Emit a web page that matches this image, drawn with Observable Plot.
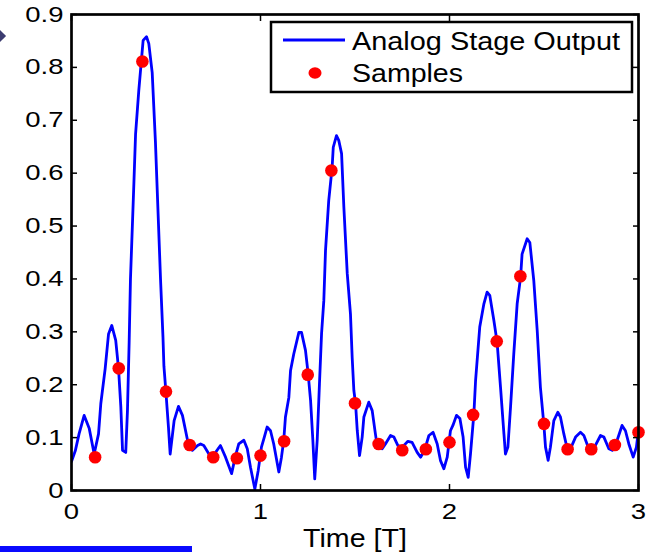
<!DOCTYPE html>
<html>
<head>
<meta charset="utf-8">
<script src="https://cdn.jsdelivr.net/npm/d3@7"></script>
<script src="https://cdn.jsdelivr.net/npm/@observablehq/plot@0.6"></script>
<style>
  html, body { margin: 0; padding: 0; background: #fff; }
  #wrap { position: relative; width: 646px; height: 552px; overflow: hidden; background: #fff; }
  #legend { position: absolute; left: 0; top: 0; }
  #diamond { position: absolute; left: -6px; top: 31px; width: 10px; height: 10px; background: #3c3c70; transform: rotate(45deg); }
  #bar { position: absolute; left: 0; top: 546px; width: 192px; height: 6px; background: #0a0aff; }
</style>
</head>
<body>
<div id="wrap">
  <div id="chart"></div>
  <div id="diamond"></div>
  <div id="bar"></div>
  <svg id="legend" width="646" height="552" style="pointer-events:none">
    <rect x="271" y="22" width="361" height="70" fill="#fff" stroke="#000" stroke-width="2.5"></rect>
    <line x1="283" y1="40" x2="345" y2="40" stroke="#0000ff" stroke-width="2.8"></line>
    <ellipse cx="315" cy="73" rx="6.5" ry="5.8" fill="#ff0000"></ellipse>
    <text x="352" y="50" font-family="Liberation Sans, Arial, sans-serif" font-size="25" fill="#000" textLength="268" lengthAdjust="spacingAndGlyphs">Analog Stage Output</text>
    <text x="352" y="82" font-family="Liberation Sans, Arial, sans-serif" font-size="25" fill="#000" textLength="111" lengthAdjust="spacingAndGlyphs">Samples</text>
  </svg>
</div>
<script>
// Analog stage output (time in T, amplitude)
const analogT = [0.000,0.020,0.040,0.067,0.094,0.120,0.143,0.155,0.178,0.196,0.213,0.234,0.249,0.261,0.270,0.287,0.296,0.305,0.312,0.330,0.339,0.356,0.379,0.397,0.409,0.427,0.444,0.471,0.484,0.489,0.499,0.513,0.522,0.543,0.566,0.587,0.614,0.640,0.667,0.683,0.700,0.727,0.750,0.788,0.815,0.847,0.868,0.885,0.912,0.930,0.947,0.970,0.988,1.005,1.018,1.035,1.053,1.070,1.097,1.111,1.123,1.132,1.150,1.159,1.176,1.203,1.217,1.238,1.252,1.265,1.277,1.287,1.300,1.312,1.323,1.335,1.344,1.361,1.379,1.385,1.402,1.414,1.429,1.441,1.459,1.476,1.485,1.494,1.503,1.512,1.524,1.538,1.547,1.573,1.591,1.608,1.617,1.644,1.661,1.688,1.706,1.727,1.750,1.780,1.802,1.829,1.847,1.868,1.891,1.913,1.935,1.952,1.970,1.988,2.005,2.018,2.037,2.055,2.072,2.085,2.099,2.111,2.129,2.138,2.160,2.182,2.199,2.213,2.235,2.252,2.270,2.288,2.296,2.309,2.323,2.340,2.358,2.376,2.384,2.411,2.425,2.446,2.464,2.481,2.499,2.508,2.522,2.534,2.552,2.573,2.587,2.605,2.623,2.644,2.667,2.693,2.711,2.737,2.763,2.799,2.817,2.843,2.861,2.887,2.913,2.931,2.949,2.972,2.989,3.000];
const analogV = [0.055,0.075,0.107,0.142,0.117,0.069,0.107,0.164,0.230,0.296,0.312,0.284,0.230,0.158,0.076,0.072,0.150,0.280,0.400,0.580,0.674,0.756,0.851,0.858,0.845,0.790,0.660,0.400,0.290,0.235,0.189,0.120,0.069,0.132,0.159,0.142,0.095,0.076,0.085,0.088,0.085,0.069,0.066,0.085,0.063,0.032,0.066,0.088,0.095,0.079,0.044,0.003,0.038,0.082,0.098,0.120,0.113,0.088,0.035,0.063,0.095,0.139,0.176,0.227,0.258,0.299,0.299,0.265,0.221,0.170,0.095,0.022,0.095,0.202,0.296,0.359,0.454,0.548,0.611,0.649,0.671,0.662,0.637,0.536,0.410,0.334,0.252,0.189,0.164,0.113,0.066,0.101,0.139,0.167,0.151,0.107,0.085,0.079,0.088,0.104,0.101,0.085,0.082,0.093,0.091,0.072,0.063,0.076,0.104,0.110,0.088,0.057,0.041,0.063,0.113,0.123,0.142,0.136,0.101,0.044,0.025,0.069,0.145,0.208,0.309,0.353,0.375,0.369,0.321,0.280,0.195,0.107,0.069,0.082,0.158,0.258,0.353,0.403,0.447,0.476,0.469,0.397,0.303,0.195,0.126,0.082,0.057,0.082,0.132,0.148,0.139,0.107,0.079,0.082,0.101,0.110,0.104,0.079,0.079,0.104,0.101,0.079,0.076,0.095,0.123,0.113,0.088,0.063,0.082,0.115];

// Samples taken every T/8
const sampleT = [0.125,0.25,0.375,0.5,0.625,0.75,0.875,1.0,1.125,1.25,1.375,1.5,1.625,1.75,1.875,2.0,2.125,2.25,2.375,2.5,2.625,2.75,2.875,3.0];
const sampleV = [0.063,0.231,0.811,0.187,0.086,0.063,0.061,0.066,0.093,0.219,0.605,0.165,0.088,0.076,0.078,0.091,0.143,0.282,0.405,0.126,0.078,0.078,0.086,0.110];

// Ticks
const yTicks = [0,0.1,0.2,0.3,0.4,0.5,0.6,0.7,0.8,0.9];
const yTickLabels = ["0","0.1","0.2","0.3","0.4","0.5","0.6","0.7","0.8","0.9"];
const xTicks = [0,1,2,3];
const xTickLabels = ["0","1","2","3"];
const xLabel = "Time [T]";

const analog = analogT.map((t, i) => ({t, v: analogV[i]}));
const samples = sampleT.map((t, i) => ({t, v: sampleV[i]}));
const yFmt = new Map(yTicks.map((d, i) => [d, yTickLabels[i]]));
const xFmt = new Map(xTicks.map((d, i) => [d, xTickLabels[i]]));

const chart = Plot.plot({
  width: 646,
  height: 552,
  marginLeft: 71,
  marginRight: 8,
  marginTop: 14,
  marginBottom: 62,
  x: {domain: [0, 3]},
  y: {domain: [0, 0.9]},
  style: {fontFamily: "Liberation Sans, Arial, sans-serif", color: "#000", background: "#fff", overflow: "visible"},
  marks: [
    Plot.line(analog, {x: "t", y: "v", stroke: "#0000ff", strokeWidth: 2.8, clip: true}),
    Plot.dot(samples, {x: "t", y: "v", r: 6.3, fill: "#ff0000", stroke: "none"}),
    Plot.frame({stroke: "#000", strokeWidth: 2.7}),
    Plot.axisY({anchor: "left", ticks: yTicks, tickSize: -6, tickPadding: 14, tickFormat: d => yFmt.get(d), label: null, fontSize: 22, strokeWidth: 1.5}),
    Plot.axisY({anchor: "right", ticks: yTicks, tickSize: -6, tickFormat: () => "", label: null, strokeWidth: 1.5}),
    Plot.axisX({anchor: "bottom", ticks: xTicks, tickSize: -6, tickPadding: 19, tickFormat: d => xFmt.get(d), label: null, fontSize: 22, strokeWidth: 1.5}),
    Plot.axisX({anchor: "top", ticks: xTicks, tickSize: -6, tickFormat: () => "", label: null, strokeWidth: 1.5}),
    Plot.text([xLabel], {frameAnchor: "bottom", dy: 38, lineAnchor: "top", fontSize: 26, fill: "#000"})
  ]
});
document.getElementById("chart").appendChild(chart);

// Widen glyphs horizontally to match the reference's stretched text
chart.querySelectorAll("text").forEach(el => {
  const s = el.textContent;
  if (!s) return;
  const factor = s === xLabel ? 1.1 : 1.25;
  const len = el.getComputedTextLength();
  if (len > 0) {
    el.setAttribute("textLength", (len * factor).toFixed(1));
    el.setAttribute("lengthAdjust", "spacingAndGlyphs");
  }
});
</script>
</body>
</html>
